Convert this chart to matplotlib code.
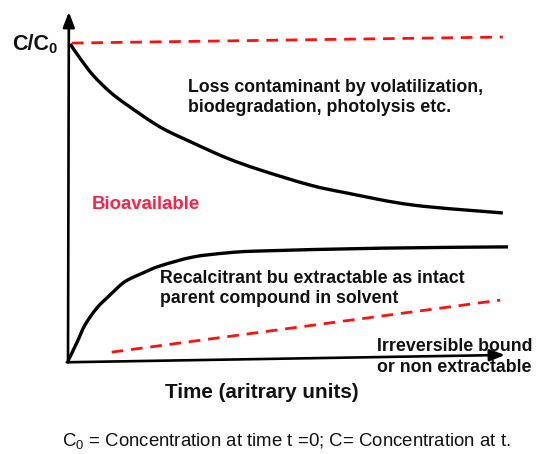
import matplotlib
matplotlib.use("Agg")
import matplotlib.pyplot as plt
from matplotlib.path import Path
from matplotlib.patches import PathPatch

plt.rcParams['font.family'] = ['Liberation Sans', 'DejaVu Sans']
plt.rcParams['mathtext.fontset'] = 'custom'
plt.rcParams['mathtext.rm'] = 'Liberation Sans'
plt.rcParams['mathtext.bf'] = 'Liberation Sans:bold'
plt.rcParams['mathtext.it'] = 'Liberation Sans:italic'

# ---- data (time in arbitrary units, C/C0) ----
decay_t = [0.05, 0.27, 0.57, 0.96, 1.35, 2.11, 2.86, 3.64, 4.39, 5.54, 6.38, 7.89, 9.95]
decay_c = [1.0, 0.956, 0.902, 0.849, 0.808, 0.738, 0.688, 0.640, 0.603, 0.555, 0.530, 0.492, 0.467]

rise_t = [0.0, 0.21, 0.39, 0.66, 0.96, 1.30, 1.72, 2.11, 2.86, 3.64, 4.39, 7.21, 10.07]
rise_c = [0.0, 0.060, 0.114, 0.167, 0.208, 0.250, 0.278, 0.300, 0.328, 0.341, 0.347, 0.356, 0.360]

top_t = [0.09, 9.95]
top_c = [1.003, 1.022]

bound_t = [1.0, 9.89]
bound_c = [0.028, 0.192]

W, H = 537, 454
X0, Y0 = 68.0, 361.0      # pixel position of origin
SX, SY = 43.7, 317.0      # pixels per unit

fig = plt.figure(figsize=(W / 100, H / 100), dpi=100)
ax = fig.add_axes([0, 0, 1, 1])
ax.set_xlim(-X0 / SX, (W - X0) / SX)
ax.set_ylim((Y0 - H) / SY, Y0 / SY)
ax.axis('off')


def smooth_path(xs, ys):
    """Cubic Bezier path passing through the given points (Catmull-Rom handles)."""
    pts = list(zip(xs, ys))
    verts = [pts[0]]
    codes = [Path.MOVETO]
    n = len(pts)
    for i in range(n - 1):
        p0 = pts[i - 1] if i > 0 else pts[i]
        p1 = pts[i]
        p2 = pts[i + 1]
        p3 = pts[i + 2] if i + 2 < n else pts[i + 1]
        c1 = (p1[0] + (p2[0] - p0[0]) / 6, p1[1] + (p2[1] - p0[1]) / 6)
        c2 = (p2[0] - (p3[0] - p1[0]) / 6, p2[1] - (p3[1] - p1[1]) / 6)
        verts += [c1, c2, p2]
        codes += [Path.CURVE4] * 3
    return Path(verts, codes)


def fx(x):
    return x / W


def fy(y):
    return 1 - y / H


# axes with arrows
arrow_kw = dict(arrowstyle='-|>,head_length=0.9,head_width=0.35', lw=1.9,
                color='black', shrinkA=0, shrinkB=0, mutation_scale=10)
ax.annotate('', xy=(0.02, 1.101), xytext=(0.0, -0.004), arrowprops=arrow_kw)
ax.annotate('', xy=(10.0, 0.019), xytext=(-0.03, -0.004), arrowprops=arrow_kw)

# curves
for xs, ys in [(decay_t, decay_c), (rise_t, rise_c)]:
    ax.add_patch(PathPatch(smooth_path(xs, ys), facecolor='none', edgecolor='black',
                           lw=2.4, capstyle='butt', joinstyle='round'))
ax.plot(top_t, top_c, color='#ff1010', lw=2.0, linestyle=(0, (4.2, 2.8)))
ax.plot(bound_t, bound_c, color='#ff1010', lw=2.0, linestyle=(0, (4.2, 2.8)))

txt = '#111111'
fs = 12.8


def put(x, y, s, **kw):
    fig.text(fx(x), fy(y), s, va='baseline', ha='left', color=kw.pop('color', txt), **kw)


put(12, 50, 'C/C', fontsize=15.5, fontweight='bold')
put(48, 53, '0', fontsize=10.5, fontweight='bold')

put(188, 92, 'Loss contaminant by volatilization,', fontsize=fs, fontweight='bold')
put(188, 112, 'biodegradation, photolysis etc.', fontsize=fs, fontweight='bold')
put(92, 209, 'Bioavailable', fontsize=13.4, fontweight='bold', color='#ff2244')
put(160, 283, 'Recalcitrant bu extractable as intact', fontsize=fs, fontweight='bold')
put(160, 303, 'parent compound in solvent', fontsize=fs, fontweight='bold')
put(377, 351, 'Irreversible bound', fontsize=fs, fontweight='bold')
put(377, 372, 'or non extractable', fontsize=fs, fontweight='bold')
put(165, 398, 'Time (aritrary units)', fontsize=14.9, fontweight='bold')
put(62, 446, r'C$_0$ = Concentration at time t =0; C= Concentration at t.', fontsize=13.4)

fig.savefig('out.png', dpi=100)
